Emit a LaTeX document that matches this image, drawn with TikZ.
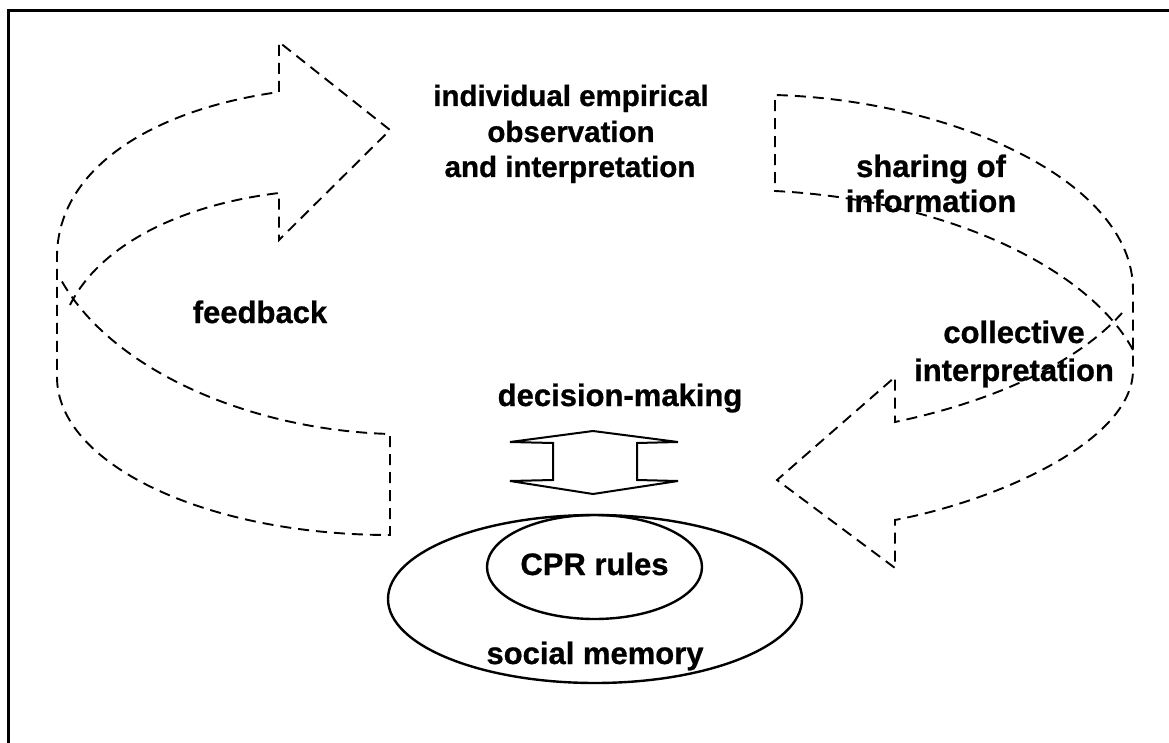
\documentclass[tikz,border=0pt]{standalone}
\usepackage{fontspec}
\setmainfont{Liberation Sans}
\newfontfamily\lblfont{Liberation Sans}[BoldFeatures={FakeBold=0.8}]
\begin{document}
\begin{tikzpicture}[x=1pt,y=-1pt,
  dsh/.style={line width=1.9pt, dash pattern=on 11pt off 7pt},
  sld/.style={line width=2pt},
  lbl/.style={font=\lblfont\bfseries\fontsize{31}{36}\selectfont, anchor=base, inner sep=0pt},
  lbs/.style={lbl, font=\lblfont\bfseries\fontsize{29.5}{36}\selectfont}]
\useasboundingbox (0,0) rectangle (1169,743);
\clip (0,0) rectangle (1169,743);
\fill[white] (0,0) rectangle (1169,743);
% frame
\draw[line width=3pt] (8,11) rectangle (1200,780);

% left (feedback) arrow
\draw[dsh] (70,305) .. controls (100,245) and (180,205) .. (279,193) -- (279,240) -- (390,130) -- (279,42) -- (279,92)
  .. controls (150,110) and (57,170) .. (57,257) -- (57,377)
  .. controls (57,464) and (206,535) .. (390,535) -- (390,434)
  .. controls (250,430) and (110,370) .. (60,278);

% right (sharing / collective) arrow
\draw[dsh] (1133,350) .. controls (1090,270) and (950,200) .. (775,191) -- (775,95)
  .. controls (950,100) and (1133,180) .. (1133,290) -- (1133,370)
  .. controls (1133,440) and (1000,500) .. (895,520) -- (895,568) -- (777,480) -- (895,377) -- (895,422)
  .. controls (1000,400) and (1080,360) .. (1122,313);

% double arrow
\draw[sld, line join=miter] (593,431) -- (678,442) -- (637,443) -- (637,480) -- (678,481) -- (593,494)
  -- (510,481) -- (553,480) -- (553,443) -- (510,442) -- cycle;

% ellipses
\draw[line width=2.4pt] (595,599) ellipse [x radius=207pt, y radius=84pt];
\draw[line width=2.4pt] (594.5,567) ellipse [x radius=107.5pt, y radius=52pt];

% labels
\node[lbs] (ind1) at (571,106) {individual empirical};
\node[lbs] (ind2) at (571,142) {observation};
\node[lbs] (ind3) at (570,177) {and interpretation};
\node[lbl] (sh1) at (931,177) {sharing of};
\node[lbl] (sh2) at (931,212) {information};
\node[lbl] (fb) at (260,323) {feedback};
\node[lbl] (co1) at (1014,343) {collective};
\node[lbl] (co2) at (1014,381) {interpretation};
\node[lbl] (dm) at (620,406) {decision-making};
\node[lbl] (cpr) at (594.5,575) {CPR rules};
\node[lbl] (sm) at (595,664) {social memory};
\end{tikzpicture}
\end{document}
